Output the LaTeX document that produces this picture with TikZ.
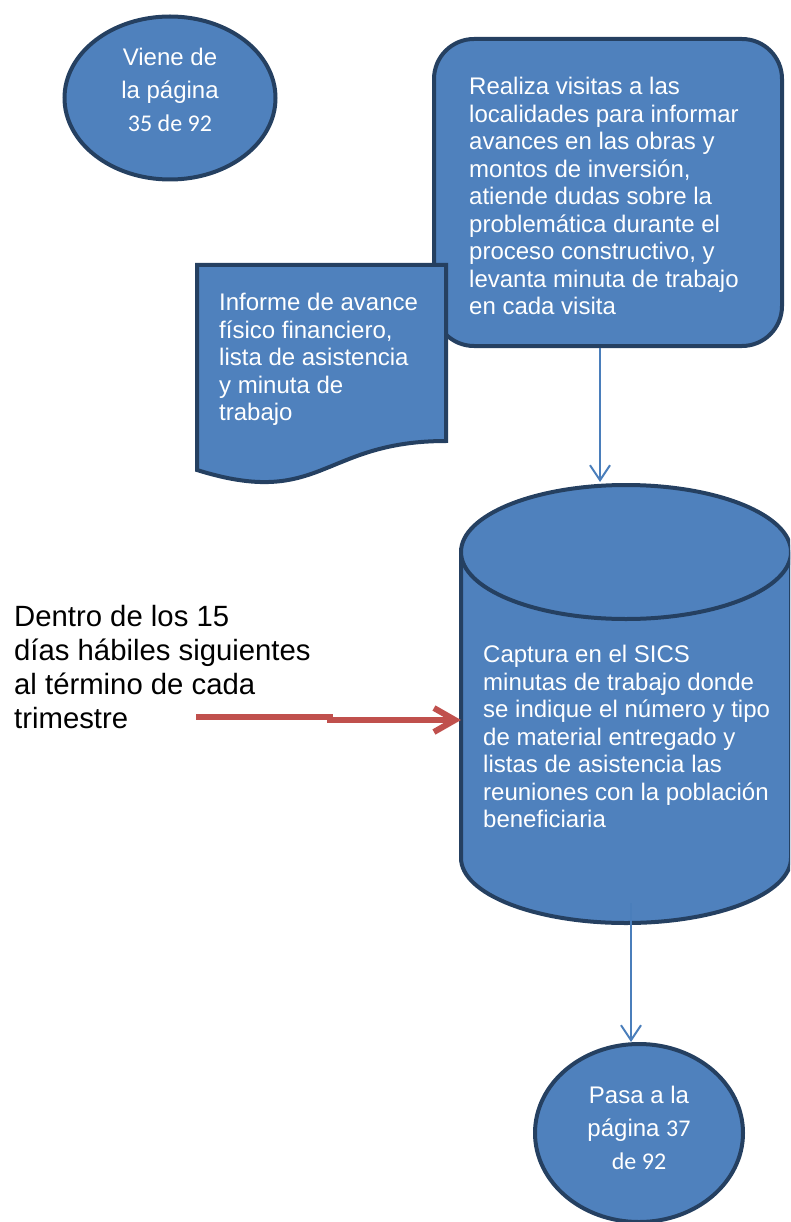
\documentclass[tikz,border=0pt]{standalone}
\usepackage{fontspec}
\setmainfont{Liberation Sans}
\newfontfamily\calibri{Carlito}
\usetikzlibrary{shapes.geometric,arrows.meta,positioning}
\definecolor{boxblue}{RGB}{79,129,189}
\definecolor{boxedge}{RGB}{37,64,97}
\definecolor{linkblue}{RGB}{74,126,187}
\definecolor{linkred}{RGB}{192,80,77}
\tikzset{
  shapebox/.style={draw=boxedge, fill=boxblue, line width=4pt},
  boxtext/.style={text=white, inner sep=0pt, align=left, font=\fontsize{24}{27.5}\selectfont},
  pagetext/.style={text=white, inner sep=0pt, align=center, anchor=north, font=\fontsize{24}{33}\selectfont},
  bluelink/.style={draw=linkblue, line width=2pt, -{Straight Barb[length=15pt,width=20pt]}},
  redlink/.style={draw=linkred, line width=6pt, -{Straight Barb[length=21pt,width=24pt]}}
}

\begin{document}
\begin{tikzpicture}[x=1pt,y=-1pt]
        \useasboundingbox (0,0) rectangle (790,1222);
        \clip (0,0) rectangle (790,1222);
        \node[shapebox, ellipse, minimum width=211pt, minimum height=163pt] (viene) at (170,98) {};
        \node[pagetext] (vienetext) at (170,48) {Viene de\\la página\\{\calibri 35 de 92}};
        \node[shapebox, rectangle, rounded corners=40pt, minimum width=348pt, minimum height=307pt] (visitas) at (608,192.5) {};
        \node[boxtext, anchor=north west] (visitastext) at (469,77) {Realiza visitas a las\\localidades para informar\\avances en las obras y\\montos de inversión,\\atiende dudas sobre la\\problemática durante el\\proceso constructivo, y\\levanta minuta de trabajo\\en cada visita};
        \filldraw[shapebox] (197,265) -- (446,265) -- (446,441) .. controls (321.5,441) and (321.5,509) .. (197,470) -- cycle;
        \node[boxtext, anchor=north west] (informe) at (219,293) {Informe de avance\\físico financiero,\\lista de asistencia\\y minuta de\\trabajo};
        \filldraw[shapebox] (461,552) -- (461,858) arc[start angle=180, end angle=360, x radius=165pt, y radius=65pt] -- (791,552) -- cycle;
        \filldraw[shapebox] (626,552) ellipse [x radius=165pt, y radius=67pt];
        \coordinate (cyltop) at (600,482);
        \coordinate (cylin) at (461,720);
        \coordinate (cylout) at (631,903);
        \node[boxtext, anchor=north west] (captura) at (483,645) {Captura en el SICS\\minutas de trabajo donde\\se indique el número y tipo\\de material entregado y\\listas de asistencia las\\reuniones con la población\\beneficiaria};
        \node[shapebox, ellipse, minimum width=208pt, minimum height=178pt] (pasa) at (639,1133) {};
        \node[pagetext] (pasatext) at (639,1086) {Pasa a la\\página {\calibri 37}\\{\calibri de 92}};
        \node[anchor=north west, inner sep=0pt, align=left, font=\fontsize{29.3}{34}\selectfont] (plazo) at (14,605) {Dentro de los 15\\días hábiles siguientes\\al término de cada\\trimestre};
        \coordinate (redstart) at (196,717);
        \draw[bluelink] (visitas.south -| cyltop) -- (cyltop);
        \draw[bluelink] (cylout) -- (pasa.north -| cylout);
        \draw[redlink] (redstart) -- ++(134,0) |- (cylin);
    \end{tikzpicture}
\end{document}
